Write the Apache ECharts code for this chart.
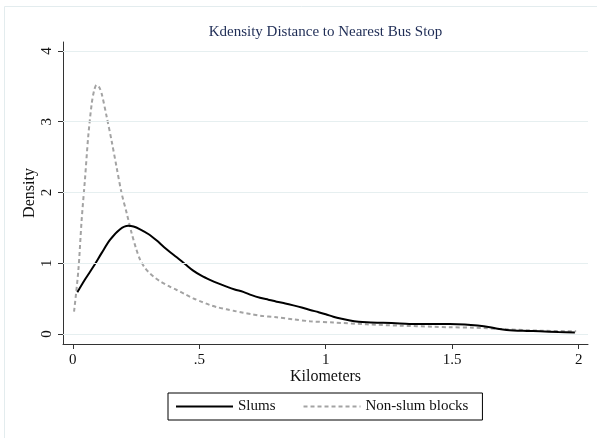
<!DOCTYPE html>
<html>
<head>
<meta charset="utf-8">
<script src="https://cdn.jsdelivr.net/npm/echarts@6/dist/echarts.min.js"></script>
<style>
  html, body { margin: 0; padding: 0; background: #ffffff; }
  #chart { width: 597px; height: 438px; }
</style>
</head>
<body>
<div id="chart"></div>
<script>
// Kernel density estimates of distance to the nearest bus stop (km)
const slumsX = [0.018, 0.05, 0.081, 0.115, 0.147, 0.187, 0.219, 0.24, 0.266, 0.30, 0.332, 0.36, 0.384, 0.411, 0.445, 0.476, 0.51, 0.542, 0.575, 0.608, 0.64, 0.674, 0.707, 0.74, 0.773, 0.806, 0.84, 0.872, 0.905, 0.938, 0.97, 1.0, 1.03, 1.063, 1.096, 1.13, 1.162, 1.227, 1.293, 1.359, 1.425, 1.49, 1.55, 1.60, 1.649, 1.68, 1.715, 1.78, 1.847, 1.92, 1.985];
const slumsY = [0.59, 0.78, 0.95, 1.15, 1.33, 1.48, 1.53, 1.52, 1.48, 1.41, 1.32, 1.23, 1.16, 1.085, 0.985, 0.895, 0.82, 0.765, 0.715, 0.67, 0.63, 0.595, 0.55, 0.513, 0.485, 0.457, 0.432, 0.405, 0.375, 0.34, 0.31, 0.28, 0.245, 0.215, 0.19, 0.173, 0.165, 0.158, 0.15, 0.14, 0.14, 0.142, 0.135, 0.12, 0.097, 0.075, 0.058, 0.045, 0.038, 0.028, 0.02];

const nonSlumX = [0.005, 0.022, 0.035, 0.048, 0.061, 0.075, 0.085, 0.094, 0.104, 0.114, 0.134, 0.154, 0.173, 0.193, 0.213, 0.233, 0.25, 0.266, 0.285, 0.305, 0.325, 0.345, 0.384, 0.411, 0.445, 0.476, 0.51, 0.542, 0.575, 0.608, 0.64, 0.674, 0.707, 0.74, 0.806, 0.872, 0.938, 1.03, 1.162, 1.293, 1.425, 1.49, 1.583, 1.715, 1.847, 1.99];
const nonSlumY = [0.315, 0.9, 1.61, 2.18, 2.79, 3.26, 3.45, 3.52, 3.49, 3.40, 3.07, 2.72, 2.36, 1.99, 1.71, 1.42, 1.21, 1.05, 0.935, 0.855, 0.795, 0.745, 0.668, 0.622, 0.56, 0.504, 0.455, 0.41, 0.375, 0.349, 0.325, 0.301, 0.28, 0.259, 0.236, 0.208, 0.18, 0.163, 0.137, 0.118, 0.103, 0.095, 0.09, 0.066, 0.047, 0.038];

const xTicks = [0, 0.5, 1, 1.5, 2];
const xTickLabels = ['0', '.5', '1', '1.5', '2'];
const yTicks = [0, 1, 2, 3, 4];

const seriesNames = ['Slums', 'Non-slum blocks'];
const titleText = 'Kdensity Distance to Nearest Bus Stop';

const pairs = (xs, ys) => xs.map((x, i) => [x, ys[i]]);
const serif = '"Liberation Serif", "DejaVu Serif", serif';

const chart = echarts.init(document.getElementById('chart'), null, { renderer: 'canvas' });

chart.setOption({
  backgroundColor: '#ffffff',
  animation: false,
  textStyle: { fontFamily: serif },
  graphic: [
    {
      type: 'rect', z: -10, silent: true,
      shape: { x: 4.5, y: 6.5, width: 700, height: 500 },
      style: { fill: 'none', stroke: '#e3ecee', lineWidth: 1 }
    },
    {
      type: 'text', silent: true,
      x: 325.5, y: 32,
      style: {
        text: titleText, fill: '#1e2c55', font: '15px ' + serif,
        textAlign: 'center', textVerticalAlign: 'middle'
      }
    }
  ],
  grid: { left: 63, right: 9, top: 42, bottom: 94, containLabel: false },
  xAxis: {
    type: 'value',
    min: -0.0387, max: 2.0368,
    name: 'Kilometers', nameLocation: 'middle', nameGap: 25, nameMoveOverlap: false,
    nameTextStyle: { fontFamily: serif, fontSize: 16, color: '#111' },
    axisLine: { show: true, onZero: false, lineStyle: { color: '#333', width: 1 } },
    axisTick: { show: true, length: 5, customValues: xTicks, lineStyle: { color: '#333' } },
    axisLabel: {
      customValues: xTicks, margin: 9,
      fontFamily: serif, fontSize: 15, color: '#111',
      formatter: v => { const i = xTicks.indexOf(v); return i >= 0 ? xTickLabels[i] : ''; }
    },
    splitLine: { show: false }
  },
  yAxis: {
    type: 'value',
    min: -0.1413, max: 4.127,
    name: 'Density', nameLocation: 'middle', nameGap: 25, nameRotate: 90, nameMoveOverlap: false,
    nameTextStyle: { fontFamily: serif, fontSize: 16, color: '#111' },
    axisLine: { show: true, onZero: false, lineStyle: { color: '#333', width: 1 } },
    axisTick: { show: true, length: 5, customValues: yTicks, lineStyle: { color: '#333' } },
    axisLabel: {
      customValues: yTicks, rotate: 90, margin: 8,
      fontFamily: serif, fontSize: 15, color: '#111',
      formatter: v => String(v)
    },
    splitLine: { show: false }
  },
  legend: {
    left: 168, top: 393,
    orient: 'horizontal',
    padding: [6, 14, 6, 7],
    itemGap: 27, itemWidth: 57, itemHeight: 15,
    borderColor: '#000', borderWidth: 1,
    itemStyle: { opacity: 0 },
    textStyle: { fontFamily: serif, fontSize: 15, color: '#111' },
    data: seriesNames
  },
  series: [
    {
      // horizontal reference lines at each density tick
      type: 'line', data: [], z: 1, silent: true,
      markLine: {
        silent: true, symbol: 'none', label: { show: false },
        lineStyle: { color: '#e6eff0', width: 1.2, type: 'solid' },
        data: yTicks.map(v => ({ yAxis: v }))
      }
    },
    {
      name: seriesNames[0], type: 'line', z: 3,
      data: pairs(slumsX, slumsY),
      smooth: 0.3, symbol: 'none', showSymbol: false,
      itemStyle: { color: '#000' },
      lineStyle: { color: '#000', width: 2 }
    },
    {
      name: seriesNames[1], type: 'line', z: 2,
      data: pairs(nonSlumX, nonSlumY),
      smooth: 0.3, symbol: 'none', showSymbol: false,
      itemStyle: { color: '#a3a3a3' },
      lineStyle: { color: '#a3a3a3', width: 2, type: [4, 3] }
    }
  ]
});
</script>
</body>
</html>
